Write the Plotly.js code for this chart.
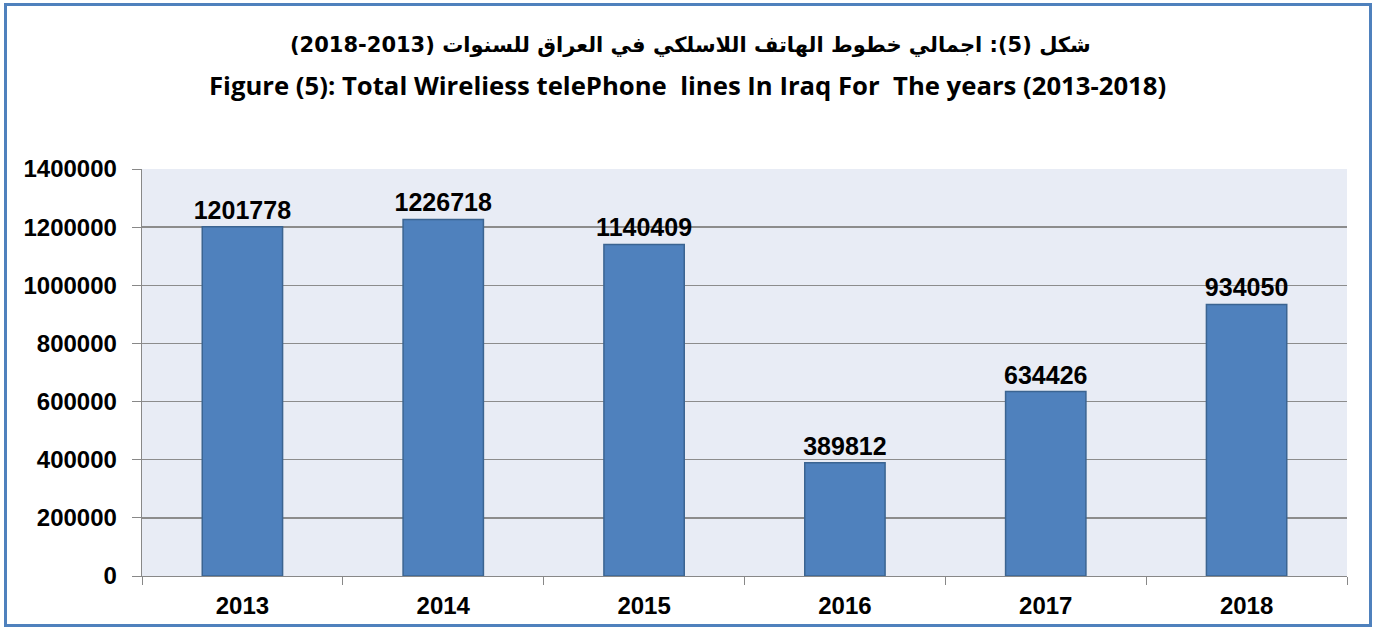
<!DOCTYPE html>
<html>
<head>
<meta charset="utf-8">
<script src="https://cdn.plot.ly/plotly-3.0.1.min.js"></script>
<style>
html,body{margin:0;padding:0;background:#fff;}
#wrap{position:relative;width:1384px;height:630px;}
#chart{position:absolute;left:0;top:0;width:1384px;height:630px;}
#frame{position:absolute;left:4px;top:3px;width:1362px;height:618px;border:3px solid #4F81BD;pointer-events:none;}
</style>
</head>
<body>
<div id="wrap"><div id="chart"></div><div id="frame"></div></div>
<script>
const years = ['2013','2014','2015','2016','2017','2018'];
const lines = [1201778, 1226718, 1140409, 389812, 634426, 934050];
const yTicks = [0,200000,400000,600000,800000,1000000,1200000,1400000];
const titleAr = 'شكل (5): اجمالي خطوط الهاتف اللاسلكي في العراق للسنوات (2013-2018)';
const titleEn = 'Figure (5): Total Wireliess telePhone  lines In Iraq For  The years (2013-2018)';

const L=142, R=37, T=169, B=54, H=630;
const ph = H-T-B;
function py(p){ return 1 + (T-p)/ph; }

const trace = {
  type:'bar', x: years, y: lines,
  text: lines.map(String), textposition:'outside', cliponaxis:false, constraintext:'none',
  textfont:{family:'Liberation Sans, Arial', size:25, color:'#000', weight:'bold'},
  marker:{color:'#4F81BD', line:{color:'#3B6491', width:1.5}},
  hoverinfo:'x+y'
};
const layout = {
  width:1384, height:630,
  margin:{l:L, r:R, t:T, b:B},
  paper_bgcolor:'#ffffff', plot_bgcolor:'#E8ECF5',
  showlegend:false, bargap:0.6,
  font:{family:'Liberation Sans, Arial', color:'#000'},
  xaxis:{
    type:'category', tickson:'boundaries', ticks:'outside', ticklen:8, tickcolor:'#888',
    showline:true, linecolor:'#888', linewidth:1.3, showgrid:false,
    tickfont:{family:'Liberation Sans, Arial', size:24, weight:'bold', color:'#000'},
    ticklabelstandoff:8
  },
  yaxis:{
    range:[0,1400000], tickvals:yTicks, ticktext:yTicks.map(String),
    ticks:'outside', ticklen:9, tickcolor:'#888',
    showline:true, linecolor:'#888', linewidth:1.3,
    showgrid:true, gridcolor:'#8C8C8C', gridwidth:1.3, zeroline:false,
    tickfont:{family:'Liberation Sans, Arial', size:24, weight:'bold', color:'#000'},
    ticklabelstandoff:10
  },
  annotations:[
    {text:titleAr, xref:'paper', yref:'paper', x:0.455, y:py(45), xanchor:'center', yanchor:'middle', showarrow:false,
     font:{family:'DejaVu Sans', size:21, weight:'bold', color:'#000'}},
    {text:titleEn, xref:'paper', yref:'paper', x:0.453, y:py(86), xanchor:'center', yanchor:'middle', showarrow:false,
     font:{family:'Open Sans, Lato', size:25.7, weight:'bold', color:'#000'}}
  ]
};
Plotly.newPlot('chart',[trace],layout,{displayModeBar:false, staticPlot:true});
</script>
</body>
</html>
